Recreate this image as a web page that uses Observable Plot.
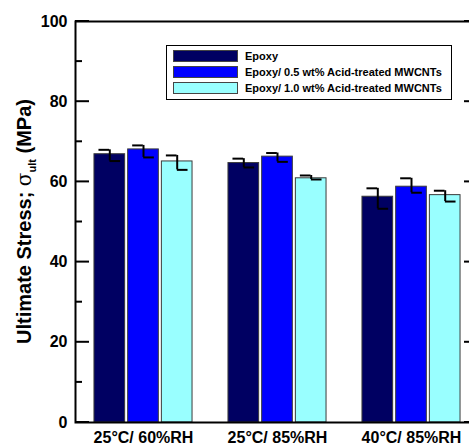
<!DOCTYPE html>
<html><head><meta charset="utf-8">
<script src="https://cdn.jsdelivr.net/npm/d3@7"></script>
<script src="https://cdn.jsdelivr.net/npm/@observablehq/plot@0.6"></script>
<style>
body{margin:0;background:#fff;}
#wrap{position:relative;width:469px;height:448px;overflow:hidden;font-family:Arial,"Liberation Sans",sans-serif;}
#wrap svg{max-width:none !important;}
#legend{position:absolute;left:166px;top:45px;width:284px;height:53px;border:1.5px solid #000;background:#fff;box-sizing:content-box;}
.row{position:absolute;left:6px;height:12px;display:flex;align-items:center;font:bold 11px Arial,"Liberation Sans",sans-serif;white-space:nowrap;}
.sw{width:63px;height:10px;border:1px solid #444;margin-right:7px;}
</style></head><body><div id="wrap"><div id="legend"></div></div>
<script>
const groups = ["25°C/ 60%RH", "25°C/ 85%RH", "40°C/ 85%RH"];
const series = ["Epoxy", "Epoxy/ 0.5 wt% Acid-treated MWCNTs", "Epoxy/ 1.0 wt% Acid-treated MWCNTs"];
const colors = ["#000062", "#0000ff", "#99ffff"];
const epoxy = [66.9, 64.7, 56.3];
const mwcnt05 = [68.1, 66.3, 58.8];
const mwcnt10 = [65.1, 60.9, 56.7];
const errHighEpoxy = [68.0, 65.8, 58.4];
const errLowEpoxy = [65.2, 63.6, 53.3];
const errHigh05 = [69.1, 67.2, 60.9];
const errLow05 = [66.1, 65.0, 57.3];
const errHigh10 = [66.6, 61.6, 57.8];
const errLow10 = [63.0, 60.6, 55.1];
const yTicks = [0, 20, 40, 60, 80, 100];
const yMinorTicks = [10, 30, 50, 70, 90];

const values = [epoxy, mwcnt05, mwcnt10];
const highs = [errHighEpoxy, errHigh05, errHigh10];
const lows = [errLowEpoxy, errLow05, errLow10];

const W = 478, H = 448, mL = 75, mR = 0, mT = 21, mB = 26;
const plotW = W - mL - mR;
const bandW = plotW / groups.length;
const barW = 31, step = 33.7, capW = 11;
const majorLen = 14, minorLen = 7;

const marks = [];
series.forEach((s, i) => {
  const data = groups.map((g, j) => ({group: g, value: values[i][j]}));
  const off = (i - 1) * step;
  marks.push(Plot.barY(data, {x: "group", y: "value", fill: colors[i], stroke: "#3a3a3a", strokeWidth: 1,
    dx: off, insetLeft: (bandW - barW) / 2, insetRight: (bandW - barW) / 2}));
});
series.forEach((s, i) => {
  const data = groups.map((g, j) => ({group: g, hi: highs[i][j], lo: lows[i][j]}));
  const off = (i - 1) * step;
  const ins = (bandW - capW) / 2;
  marks.push(Plot.ruleX(data, {x: "group", y1: "lo", y2: "hi", dx: off, stroke: "black", strokeWidth: 2}));
  marks.push(Plot.tickY(data, {x: "group", y: "hi", dx: off - capW / 2, insetLeft: ins, insetRight: ins, stroke: "black", strokeWidth: 2}));
  marks.push(Plot.tickY(data, {x: "group", y: "lo", dx: off + capW / 2, insetLeft: ins, insetRight: ins, stroke: "black", strokeWidth: 2}));
});
marks.push(Plot.frame({stroke: "black", strokeWidth: 2}));
marks.push(Plot.axisY({ticks: yTicks, tickSize: 0, tickPadding: 8, fontSize: 16, fontWeight: "bold", label: null}));
marks.push(Plot.axisX({tickSize: 0, tickPadding: 9, fontSize: 16, fontWeight: "bold", label: null}));

const chart = Plot.plot({
  width: W, height: H,
  marginLeft: mL, marginRight: mR, marginTop: mT, marginBottom: mB,
  style: {fontFamily: "Arial, 'Liberation Sans', sans-serif", background: "white", maxWidth: "none"},
  x: {domain: groups, type: "band", padding: 0},
  y: {domain: [0, 100]},
  marks
});
document.getElementById("wrap").prepend(chart);

const svg = d3.select(chart);
// inward ticks on left and right axes, positioned with Plot's own y scale
const yScale = chart.scale("y");
const tickG = svg.append("g").attr("stroke", "black").attr("stroke-width", 2);
[[yTicks, majorLen], [yMinorTicks, minorLen]].forEach(([vals, len]) => {
  vals.forEach(v => {
    const y = yScale.apply(v);
    tickG.append("line").attr("x1", mL).attr("x2", mL + len).attr("y1", y).attr("y2", y);
    tickG.append("line").attr("x1", W - mR - len).attr("x2", W - mR).attr("y1", y).attr("y2", y);
  });
});

// Y axis title with subscript
const cy = (mT + (H - mB)) / 2;
const t = svg.append("text")
  .attr("transform", `translate(31,${cy}) rotate(-90)`)
  .attr("text-anchor", "middle")
  .attr("font-family", "Arial, 'Liberation Sans', sans-serif")
  .attr("font-size", 20).attr("font-weight", "bold").attr("fill", "black");
t.append("tspan").text("Ultimate Stress; ");
t.append("tspan").attr("font-weight", "normal").attr("font-family", "'DejaVu Serif', serif").text("σ");
t.append("tspan").attr("font-size", 11).attr("dy", 5).text("ult");
t.append("tspan").attr("dy", -5).text(" (MPa)");

// Legend
const legend = document.getElementById("legend");
const rowTops = [4, 20, 35.5];
series.forEach((s, i) => {
  const row = document.createElement("div");
  row.className = "row";
  row.style.top = rowTops[i] + "px";
  const sw = document.createElement("div");
  sw.className = "sw";
  sw.style.background = colors[i];
  const lbl = document.createElement("span");
  lbl.textContent = s;
  row.appendChild(sw); row.appendChild(lbl);
  legend.appendChild(row);
});
</script></body></html>
